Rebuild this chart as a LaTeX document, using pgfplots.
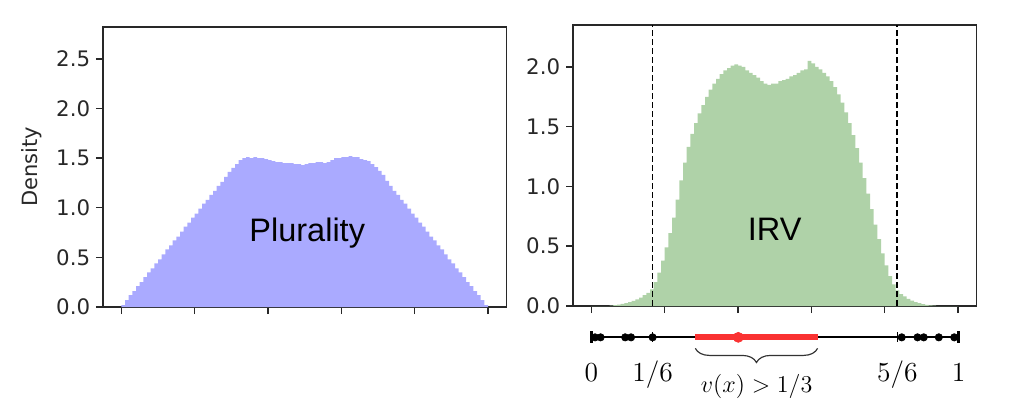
\documentclass[border=0pt]{standalone}
\usepackage{fix-cm}
\usepackage{fontspec}
\setmainfont{DejaVu Sans}
\newfontfamily\arial{Liberation Sans}
\usepackage{pgfplots}
\usepackage{pgfplotstable}
\pgfplotsset{compat=1.18}
\usetikzlibrary{decorations.pathreplacing}

\definecolor{pluBlue}{RGB}{170,170,255}
\definecolor{irvGreen}{RGB}{175,210,168}
\definecolor{nlRed}{RGB}{250,50,50}
\definecolor{axgray}{RGB}{40,40,40}

% histogram bins: left edge, density (last row closes the last bin)
\pgfplotstableread{
x y
0.00 0.02
0.01 0.07
0.02 0.12
0.03 0.16
0.04 0.21
0.05 0.25
0.06 0.30
0.07 0.35
0.08 0.39
0.09 0.44
0.10 0.48
0.11 0.53
0.12 0.58
0.13 0.62
0.14 0.67
0.15 0.71
0.16 0.76
0.17 0.81
0.18 0.85
0.19 0.90
0.20 0.94
0.21 0.99
0.22 1.04
0.23 1.08
0.24 1.13
0.25 1.17
0.26 1.22
0.27 1.26
0.28 1.31
0.29 1.36
0.30 1.40
0.31 1.44
0.32 1.48
0.33 1.50
0.34 1.51
0.35 1.50
0.36 1.51
0.37 1.50
0.38 1.50
0.39 1.49
0.40 1.48
0.41 1.47
0.42 1.46
0.43 1.46
0.44 1.45
0.45 1.45
0.46 1.45
0.47 1.44
0.48 1.44
0.49 1.43
0.50 1.44
0.51 1.45
0.52 1.45
0.53 1.46
0.54 1.46
0.55 1.45
0.56 1.46
0.57 1.48
0.58 1.50
0.59 1.50
0.60 1.51
0.61 1.51
0.62 1.52
0.63 1.51
0.64 1.51
0.65 1.49
0.66 1.48
0.67 1.47
0.68 1.44
0.69 1.41
0.70 1.37
0.71 1.33
0.72 1.27
0.73 1.22
0.74 1.17
0.75 1.13
0.76 1.08
0.77 1.04
0.78 0.99
0.79 0.94
0.80 0.90
0.81 0.85
0.82 0.81
0.83 0.76
0.84 0.71
0.85 0.67
0.86 0.62
0.87 0.58
0.88 0.53
0.89 0.48
0.90 0.44
0.91 0.39
0.92 0.35
0.93 0.30
0.94 0.25
0.95 0.21
0.96 0.16
0.97 0.12
0.98 0.07
0.99 0.02
1.00 0.02
}\plurality

\pgfplotstableread{
x y
0.00 0
0.01 0
0.02 0
0.03 0
0.04 0
0.05 0.003
0.06 0.007
0.07 0.012
0.08 0.018
0.09 0.025
0.10 0.033
0.11 0.042
0.12 0.055
0.13 0.07
0.14 0.09
0.15 0.11
0.16 0.14
0.17 0.20
0.18 0.28
0.19 0.38
0.20 0.49
0.21 0.61
0.22 0.74
0.23 0.89
0.24 1.05
0.25 1.20
0.26 1.33
0.27 1.44
0.28 1.53
0.29 1.61
0.30 1.68
0.31 1.75
0.32 1.81
0.33 1.86
0.34 1.90
0.35 1.94
0.36 1.97
0.37 1.99
0.38 2.01
0.39 2.02
0.40 2.01
0.41 2.00
0.42 1.97
0.43 1.95
0.44 1.93
0.45 1.91
0.46 1.88
0.47 1.86
0.48 1.85
0.49 1.86
0.50 1.86
0.51 1.88
0.52 1.89
0.53 1.90
0.54 1.92
0.55 1.93
0.56 1.95
0.57 1.97
0.58 1.98
0.59 2.05
0.60 2.03
0.61 2.00
0.62 1.98
0.63 1.95
0.64 1.92
0.65 1.88
0.66 1.83
0.67 1.77
0.68 1.70
0.69 1.62
0.70 1.53
0.71 1.43
0.72 1.32
0.73 1.20
0.74 1.07
0.75 0.94
0.76 0.81
0.77 0.68
0.78 0.56
0.79 0.44
0.80 0.34
0.81 0.25
0.82 0.18
0.83 0.13
0.84 0.10
0.85 0.08
0.86 0.06
0.87 0.045
0.88 0.033
0.89 0.024
0.90 0.016
0.91 0.010
0.92 0.006
0.93 0.003
0.94 0
0.95 0
0.96 0
0.97 0
0.98 0
0.99 0
1.00 0
}\irv

\pgfplotsset{
  histax/.style={
    scale only axis,
    width=242pt,
    xmin=-0.05, xmax=1.05, ymin=0,
    xtick={0,0.2,0.4,0.6,0.8,1},
    xticklabels={},
    tick align=outside, tick pos=left,
    major tick length=4.2pt,
    axis line style={axgray, line width=0.9pt},
    tick style={axgray, line width=0.9pt},
    ticklabel style={font=\fontsize{12.8}{14}\selectfont, text=axgray},
    yticklabel style={/pgf/number format/.cd, fixed, fixed zerofill,
      precision=1, assume math mode=true},
  },
}

\begin{document}
\begin{tikzpicture}
\path (0,0) rectangle (614.4pt,250.2pt);

% Plurality
\begin{axis}[histax,
    at={(61.8pt,66pt)}, anchor=south west,
    height=168pt, ymax=2.82,
    ytick={0,0.5,1,1.5,2,2.5},
    ylabel={Density},
    ylabel style={at={(axis description cs:-0.177,0.5)}, anchor=center,
      font=\fontsize{12.6}{14}\selectfont, text=axgray},
]
\addplot[ybar interval, fill=pluBlue, draw=none] table[x=x,y=y] {\plurality};
\node[anchor=base, font=\arial\fontsize{19.5}{22}\selectfont] at (axis cs:0.507,0.66) {Plurality};
\end{axis}

% IRV
\begin{axis}[histax,
    at={(343.8pt,66.6pt)}, anchor=south west,
    height=168.6pt, ymax=2.35,
    ytick={0,0.5,1,1.5,2},
]
\addplot[ybar interval, fill=irvGreen, draw=none] table[x=x,y=y] {\irv};
\addplot[black, line width=0.9pt, dash pattern=on 3.6pt off 1.8pt] coordinates {(0.16667,0) (0.16667,2.35)};
\addplot[black, line width=0.9pt, dash pattern=on 3.6pt off 1.8pt] coordinates {(0.83333,0) (0.83333,2.35)};
\node[anchor=base, font=\arial\fontsize{19.5}{22}\selectfont] at (axis cs:0.5,0.546) {IRV};
\end{axis}

% number line under the IRV panel
\begin{axis}[
    at={(343.8pt,47.8pt)}, anchor=west,
    scale only axis, width=242.4pt, height=52.4pt,
    xmin=-0.05, xmax=1.05, ymin=-26.2, ymax=26.2,
    axis line style={draw=none},
    ytick=\empty,
    xtick={0,0.16667,0.83333,1},
    xticklabels={$0$,$1/6$,$5/6$,$1$},
    major tick length=0pt,
    tick style={draw=none},
    xticklabel style={anchor=base, font=\fontsize{16.5}{18}\selectfont},
    clip=false,
]
\addplot[black, line width=1.2pt] coordinates {(0,0) (1,0)};
\addplot[nlRed, line width=3.6pt] coordinates {(0.283,0) (0.616,0)};
\addplot[only marks, mark=|, mark size=3pt, black, line width=0.8pt] coordinates {(0.16667,0) (0.83333,0)};
\addplot[only marks, mark=|, mark size=3.6pt, black, line width=1.7pt] coordinates {(0,0) (1,0)};
\addplot[only marks, mark=*, mark size=2.2pt, black] coordinates {
  (0.010,0) (0.025,0) (0.092,0) (0.108,0) (0.1667,0)
  (0.845,0) (0.888,0) (0.905,0) (0.946,0) (0.988,0)};
\addplot[only marks, mark=*, mark size=3pt, nlRed] coordinates {(0.40,0)};
\draw[decorate, decoration={brace, amplitude=8.5pt, mirror}, black!80, line width=0.7pt]
  (axis cs:0.283,-6.6) -- (axis cs:0.616,-6.6);
\node[anchor=base, font=\fontsize{14.5}{16}\selectfont] at (axis cs:0.45,-33.2) {$v(x) > 1/3$};
\end{axis}
\end{tikzpicture}
\end{document}
